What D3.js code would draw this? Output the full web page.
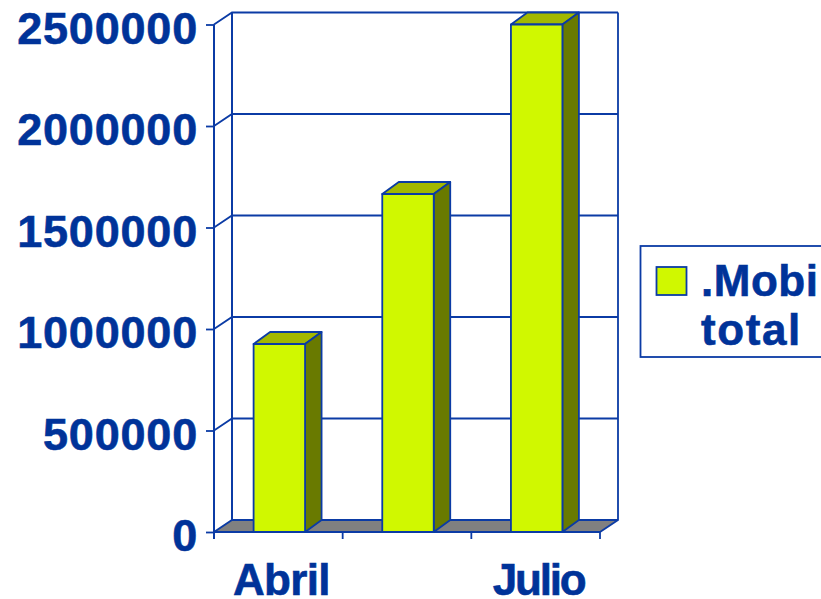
<!DOCTYPE html>
<html>
<head>
<meta charset="utf-8">
<script src="https://cdn.jsdelivr.net/npm/d3@7"></script>
<style>
  html, body { margin: 0; padding: 0; background: #fff; overflow: hidden; }
  svg { display: block; }
  text { font-family: "Liberation Sans", Arial, sans-serif; font-weight: bold; fill: #003399; stroke: #003399; stroke-width: 0.6px; }
  .axis path { display: none; }
</style>
</head>
<body>
<div id="chart"></div>
<script>
// data
var categories = ["Abril", "", "Julio"];
var values = [926000, 1665000, 2500000];
var yTicks = [0, 500000, 1000000, 1500000, 2000000, 2500000];
var legendLines = [".Mobi", "total"];

var width = 821, height = 599;
var lineColor = "#0b3ba5";

// plot box, front plane
var plotLeft = 214, plotRight = 600, plotTop = 24.5, plotBottom = 532;
var depthX = 18, depthY = 12;
var barDepthX = 16.5;

var svg = d3.select("#chart")
    .append("svg")
    .attr("width", width)
    .attr("height", height);

var x = d3.scaleBand()
    .domain(categories)
    .range([plotLeft, plotRight])
    .paddingInner(0.6)
    .paddingOuter(0.3);

var y = d3.scaleLinear()
    .domain([0, 2500000])
    .range([plotBottom, plotTop]);

var outer = x.step() * 0.3;

// ---- FLOOR ---- //
svg.append("polygon")
    .attr("points", [[plotLeft, plotBottom], [plotLeft + depthX, plotBottom - depthY], [plotRight + depthX, plotBottom - depthY], [plotRight, plotBottom]].join(" "))
    .attr("fill", "#808080")
    .attr("stroke", "none");

// ---- WALLS AND GRID ---- //
var grid = svg.append("g")
    .attr("fill", "none")
    .attr("stroke", lineColor)
    .attr("stroke-width", 1.8);

grid.selectAll(".grid")
    .data(yTicks)
    .enter()
    .append("polyline")
    .attr("class", "grid")
    .attr("points", function(d) {
      return [[plotLeft, y(d)], [plotLeft + depthX, y(d) - depthY], [plotRight + depthX, y(d) - depthY]].join(" ");
    });

grid.append("line")
    .attr("x1", plotLeft + depthX).attr("x2", plotLeft + depthX)
    .attr("y1", y(2500000) - depthY).attr("y2", y(0) - depthY)
    .attr("stroke-width", 2);

grid.append("polyline")
    .attr("points", [[plotRight + depthX, y(2500000) - depthY], [plotRight + depthX, y(0) - depthY], [plotRight, y(0)]].join(" "));

// ---- AXES ---- //
var yAxis = d3.axisLeft(y)
    .tickValues(yTicks)
    .tickSize(8)
    .tickPadding(8)
    .tickFormat(d3.format("d"));

var yAxisGroup = svg.append("g")
    .attr("class", "axis")
    .attr("transform", "translate(" + plotLeft + ",0)")
    .call(yAxis);

yAxisGroup.selectAll("line").attr("stroke", lineColor).attr("stroke-width", 1.8);
yAxisGroup.selectAll("text")
    .attr("font-size", 45)
    .attr("letter-spacing", 0.8)
    .attr("dy", 18.5);

svg.append("line")
    .attr("x1", plotLeft).attr("x2", plotLeft)
    .attr("y1", y(2500000)).attr("y2", y(0) + 7)
    .attr("stroke", lineColor).attr("stroke-width", 2);

svg.append("line")
    .attr("x1", plotLeft).attr("x2", plotRight)
    .attr("y1", y(0)).attr("y2", y(0))
    .attr("stroke", lineColor).attr("stroke-width", 2);

// category ticks sit on the band edges
svg.selectAll(".cat-tick")
    .data(categories)
    .enter()
    .append("line")
    .attr("class", "cat-tick")
    .attr("x1", function(d) { return x(d) + x.bandwidth() + outer; })
    .attr("x2", function(d) { return x(d) + x.bandwidth() + outer; })
    .attr("y1", y(0))
    .attr("y2", y(0) + 7)
    .attr("stroke", lineColor)
    .attr("stroke-width", 1.8);

var xAxis = d3.axisBottom(x).tickSize(0).tickPadding(32);

var xAxisGroup = svg.append("g")
    .attr("class", "axis")
    .attr("transform", "translate(3," + plotBottom + ")")
    .call(xAxis);

xAxisGroup.selectAll("line").remove();
xAxisGroup.selectAll("text")
    .attr("font-size", 44)
    .attr("letter-spacing", function(d) { return d === "Julio" ? -2.2 : -0.7; });

// ---- DRAW BARS ---- //
var bars = svg.selectAll(".bar")
    .data(values)
    .enter()
    .append("g")
    .attr("class", "bar")
    .attr("stroke", lineColor)
    .attr("stroke-width", 1.8)
    .attr("stroke-linejoin", "round");

function barX(i) { return x(categories[i]) + 1; }

bars.append("polygon")
    .attr("fill", "#a3b800")
    .attr("points", function(d, i) {
      var x0 = barX(i), x1 = x0 + x.bandwidth(), t = y(d);
      return [[x0, t], [x0 + barDepthX, t - depthY], [x1 + barDepthX, t - depthY], [x1, t]].join(" ");
    });

bars.append("polygon")
    .attr("fill", "#697a00")
    .attr("points", function(d, i) {
      var x1 = barX(i) + x.bandwidth(), t = y(d);
      return [[x1, t], [x1 + barDepthX, t - depthY], [x1 + barDepthX, y(0) - depthY], [x1, y(0)]].join(" ");
    });

bars.append("rect")
    .attr("fill", "#d0f800")
    .attr("x", function(d, i) { return barX(i); })
    .attr("y", function(d) { return y(d); })
    .attr("width", x.bandwidth())
    .attr("height", function(d) { return y(0) - y(d); });

// ---- LEGEND ---- //
var legend = svg.append("g");

legend.append("rect")
    .attr("x", 640.5).attr("y", 246)
    .attr("width", 200).attr("height", 111)
    .attr("fill", "#fff")
    .attr("stroke", lineColor)
    .attr("stroke-width", 1.8);

legend.append("rect")
    .attr("x", 656.5).attr("y", 267)
    .attr("width", 30).attr("height", 28)
    .attr("fill", "#d0f800")
    .attr("stroke", lineColor)
    .attr("stroke-width", 1.8);

legend.selectAll(".legend-line")
    .data(legendLines)
    .enter()
    .append("text")
    .attr("class", "legend-line")
    .attr("x", 701)
    .attr("y", function(d, i) { return 296 + i * 49; })
    .attr("font-size", 44)
    .attr("letter-spacing", function(d, i) { return i === 0 ? 0.5 : 1.6; })
    .text(function(d) { return d; });
</script>
</body>
</html>
